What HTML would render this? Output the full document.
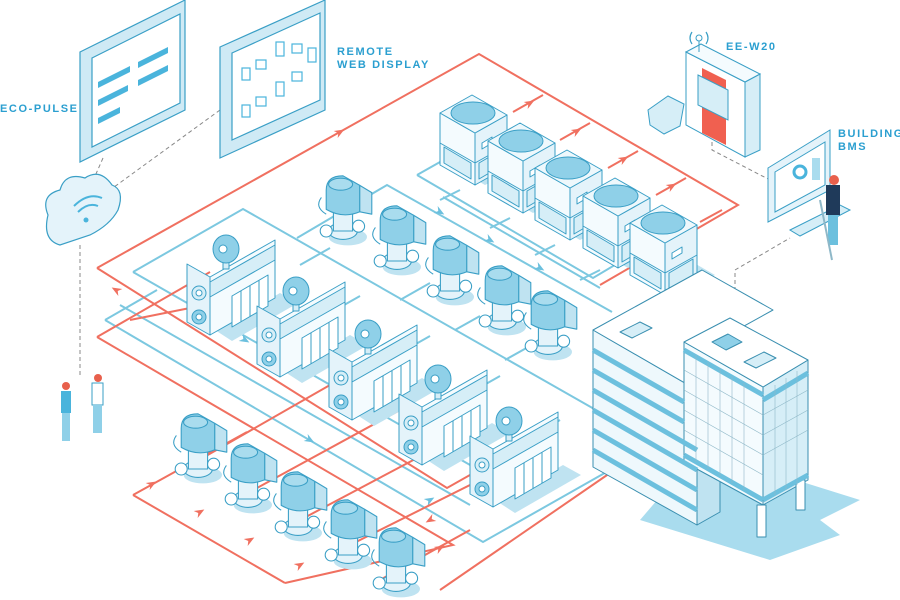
<!DOCTYPE html>
<html><head><meta charset="utf-8"><style>
html,body{margin:0;padding:0;background:#fff;width:900px;height:600px;overflow:hidden}
svg{display:block}
.lb{font-family:"Liberation Sans",sans-serif;font-weight:bold;fill:#2b9fd0;font-size:11px;letter-spacing:1.6px}
</style></head><body>
<svg width="900" height="600" viewBox="0 0 900 600" xmlns="http://www.w3.org/2000/svg">
<defs>
<g id="chiller" stroke="#3a9fc6" stroke-width="1" stroke-linejoin="round">
  <polygon points="5,-5 70,-42 88,-32 22,6" fill="#bfe3f1" stroke="none"/>
  <polygon points="0,0 65,-37 65,-95 0,-58" fill="#f4fbfe"/>
  <polygon points="0,0 -23,-13 -23,-71 0,-58" fill="#e4f3fa"/>
  <polygon points="0,-38 65,-75 65,-90 0,-53" fill="#d6eef7"/>
  <polygon points="22,-8 58,-29 58,-60 22,-39" fill="#fff"/>
  <line x1="31" y1="-13" x2="31" y2="-44"/><line x1="40" y1="-18" x2="40" y2="-49"/><line x1="49" y1="-24" x2="49" y2="-55"/>
  <circle cx="-11" cy="-18" r="7" fill="#8fd0e8"/><circle cx="-11" cy="-42" r="7" fill="#d6eef7"/>
  <circle cx="-11" cy="-18" r="3" fill="#fff"/><circle cx="-11" cy="-42" r="3" fill="#fff"/>
  <rect x="13" y="-80" width="6" height="14" fill="#d6eef7"/>
  <ellipse cx="16" cy="-86" rx="13" ry="14" fill="#8fd0e8"/>
  <circle cx="13" cy="-86" r="4" fill="#fff"/>
</g>
<g id="pump" stroke="#3a9fc6" stroke-width="0.9" stroke-linejoin="round">
  <ellipse cx="4" cy="25" rx="16" ry="7" fill="#bfe3f1" stroke="none"/>
  <ellipse cx="0" cy="20" rx="12" ry="7" fill="#e4f3fa"/>
  <rect x="-8" y="4" width="16" height="16" fill="#e4f3fa"/>
  <circle cx="-14" cy="20" r="5" fill="#fff"/><circle cx="13" cy="16" r="5" fill="#fff"/>
  <path d="M-18,-8 Q-24,0 -14,6" fill="none"/>
  <path d="M-14,-14 Q-14,-26 0,-26 L14,-18 L14,4 Q0,10 -14,2 Z" fill="#8fd0e8"/>
  <polygon points="14,-18 24,-12 24,6 14,4" fill="#bfe3f1"/>
  <ellipse cx="-2" cy="-19" rx="10" ry="5" fill="#a9dcee"/>
</g>
<g id="tower" stroke="#3a9fc6" stroke-width="1" stroke-linejoin="round">
  <polygon points="0,0 35,20 75,0 40,-20" fill="#bfe3f1" stroke="none" transform="translate(10,0)"/>
  <polygon points="0,0 35,20 35,-32 0,-52" fill="#f4fbfe"/>
  <polygon points="35,20 67,2 67,-50 35,-32" fill="#e4f3fa"/>
  <polygon points="0,-52 35,-32 67,-50 32,-70" fill="#eef8fc"/>
  <ellipse cx="33" cy="-52" rx="22" ry="11" fill="#8fd0e8"/>
  <line x1="0" y1="-22" x2="35" y2="-2"/><line x1="35" y1="-2" x2="67" y2="-20"/>
  <polygon points="4,-18 31,-2 31,14 4,-2" fill="#d6eef7"/>
  <polygon points="39,-2 63,-16 63,0 39,14" fill="#d6eef7"/>
  <polygon points="42,-22 52,-28 52,-22 42,-16" fill="#fff"/>
</g>
<g id="arR"><path d="M-5,-4 L5,0 L-5,4 L-2,0Z" fill="#f07060"/></g>
<g id="arB"><path d="M-5,-4 L5,0 L-5,4 L-2,0Z" fill="#6cc0de"/></g>
</defs>

<polygon points="700,450 860,500 820,520 840,535 770,560 640,520" fill="#a9dcee"/>

<g fill="none" stroke="#7cc8e0" stroke-width="2">
  <polyline points="133,272 243,209 610,418"/>
  <polyline points="133,272 505,485"/>
  <polyline points="105,320 157,290"/>
  <polyline points="105,320 483,542 610,470"/>
  <polyline points="120,305 470,505"/>
  <polyline points="297,238 387,185 612,312"/>
  <polyline points="417,175 593,278 640,250"/>
  <polyline points="443,197 600,288"/>
  <polyline points="417,175 440,162"/>
  <line x1="440" y1="165" x2="470" y2="148"/>
  <line x1="300" y1="330" x2="360" y2="296"/><line x1="370" y1="370" x2="430" y2="336"/>
  <line x1="440" y1="410" x2="500" y2="376"/><line x1="510" y1="450" x2="560" y2="420"/>
  <line x1="400" y1="300" x2="430" y2="283"/><line x1="455" y1="330" x2="480" y2="316"/>
  <line x1="505" y1="360" x2="530" y2="346"/><line x1="300" y1="265" x2="330" y2="248"/>
  <line x1="440" y1="200" x2="460" y2="190"/><line x1="490" y1="228" x2="510" y2="218"/>
  <line x1="535" y1="255" x2="555" y2="245"/><line x1="580" y1="280" x2="600" y2="270"/>
</g>
<g>
  <use href="#arB" transform="translate(335,230) rotate(150)"/>
  <use href="#arB" transform="translate(395,265) rotate(150)"/>
  <use href="#arB" transform="translate(450,300) rotate(150)"/>
  <use href="#arB" transform="translate(500,330) rotate(150)"/>
  <use href="#arB" transform="translate(440,212) rotate(30)"/>
  <use href="#arB" transform="translate(490,240) rotate(30)"/>
  <use href="#arB" transform="translate(540,268) rotate(30)"/>
  <use href="#arB" transform="translate(245,340) rotate(30)"/>
  <use href="#arB" transform="translate(310,440) rotate(30)"/>
  <use href="#arB" transform="translate(430,500) rotate(-30)"/>
</g>
<g fill="none" stroke="#f07060" stroke-width="2">
  <polyline points="97,268 479,54 738,205 600,285"/>
  <polyline points="97,268 447,488 500,458"/>
  <polyline points="97,337 453,545 285,583"/>
  <polyline points="133,495 247,432"/>
  <polyline points="133,495 285,583"/>
  <polyline points="440,590 610,473"/>
  <polyline points="97,337 210,272"/>
  <polyline points="130,320 205,305"/>
  <polyline points="185,468 330,385"/>
  <polyline points="235,500 400,410"/>
  <polyline points="285,528 470,430"/>
  <polyline points="330,555 530,455"/>
  <polyline points="380,580 470,530"/>
  <line x1="513" y1="112" x2="543" y2="95"/><line x1="560" y1="140" x2="590" y2="123"/>
  <line x1="608" y1="168" x2="638" y2="151"/><line x1="656" y1="195" x2="686" y2="178"/>
  <line x1="700" y1="222" x2="722" y2="210"/>
</g>
<g>
  <use href="#arR" transform="translate(340,132) rotate(-30)"/>
  <use href="#arR" transform="translate(116,290) rotate(-150)"/>
  <use href="#arR" transform="translate(530,103) rotate(-30)"/>
  <use href="#arR" transform="translate(577,131) rotate(-30)"/>
  <use href="#arR" transform="translate(624,159) rotate(-30)"/>
  <use href="#arR" transform="translate(672,186) rotate(-30)"/>
  <use href="#arR" transform="translate(152,484) rotate(-30)"/>
  <use href="#arR" transform="translate(200,512) rotate(-30)"/>
  <use href="#arR" transform="translate(250,540) rotate(-30)"/>
  <use href="#arR" transform="translate(300,565) rotate(-30)"/>
  <use href="#arR" transform="translate(440,548) rotate(-30)"/>
  <use href="#arR" transform="translate(430,520) rotate(150)"/>
</g>

<g fill="none" stroke="#888" stroke-width="1" stroke-dasharray="4,3">
  <line x1="103" y1="158" x2="92" y2="183"/>
  <line x1="220" y1="110" x2="110" y2="190"/>
  <line x1="80" y1="245" x2="80" y2="375"/>
  <polyline points="712,135 712,150 770,180"/>
  <polyline points="735,305 735,270 790,238"/>
</g>

<use href="#tower" x="440" y="165"/><use href="#tower" x="488" y="193"/>
<use href="#tower" x="535" y="220"/><use href="#tower" x="583" y="248"/><use href="#tower" x="630" y="275"/>

<use href="#pump" transform="translate(343,207) scale(1.2)"/>
<use href="#pump" transform="translate(397,237) scale(1.2)"/>
<use href="#pump" transform="translate(450,267) scale(1.2)"/>
<use href="#pump" transform="translate(502,297) scale(1.2)"/>
<use href="#pump" transform="translate(548,322) scale(1.2)"/>
<use href="#pump" transform="translate(198,445) scale(1.2)"/>
<use href="#pump" transform="translate(248,475) scale(1.2)"/>
<use href="#pump" transform="translate(298,503) scale(1.2)"/>
<use href="#pump" transform="translate(348,531) scale(1.2)"/>
<use href="#pump" transform="translate(396,559) scale(1.2)"/>

<use href="#chiller" x="210" y="335"/><use href="#chiller" x="280" y="377"/><use href="#chiller" x="352" y="420"/>
<use href="#chiller" x="422" y="465"/><use href="#chiller" x="493" y="507"/>

<g stroke="#3a8fb0" stroke-width="1" stroke-linejoin="round">
  <polygon points="593,330 697,390 697,525 593,467" fill="#eef8fc"/>
  <polygon points="593,330 702,270 773,310 697,352 697,390" fill="#fff"/>
  <polygon points="697,390 697,525 720,512 720,378" fill="#bfe3f1"/>
  <polygon points="684,342 763,387 763,505 684,462" fill="#f4fbfe"/>
  <polygon points="763,387 808,360 808,480 763,505" fill="#d6eef7"/>
  <polygon points="684,342 730,318 808,360 763,387" fill="#fff"/>
  <rect x="757" y="505" width="9" height="32" fill="#fff"/>
  <rect x="796" y="480" width="9" height="30" fill="#fff"/>
  <polygon points="620,332 640,322 652,328 632,338" fill="#d6eef7"/>
  <polygon points="744,362 764,352 776,358 756,368" fill="#d6eef7"/>
  <polygon points="712,342 728,334 742,342 726,350" fill="#8fd0e8"/>
</g>
<g stroke="#6cc0de" stroke-width="5" fill="none">
  <line x1="593" y1="350" x2="684" y2="402"/><line x1="593" y1="370" x2="684" y2="422"/>
  <line x1="593" y1="390" x2="697" y2="450"/><line x1="593" y1="410" x2="697" y2="470"/>
  <line x1="593" y1="430" x2="697" y2="490"/><line x1="593" y1="450" x2="697" y2="510"/>
  <line x1="684" y1="455" x2="763" y2="500"/><line x1="763" y1="500" x2="808" y2="475"/>
  <line x1="763" y1="400" x2="808" y2="373"/><line x1="684" y1="350" x2="763" y2="395"/>
</g>
<g stroke="#8fb8c8" stroke-width="0.6">
  <line x1="696" y1="355" x2="696" y2="462"/><line x1="708" y1="362" x2="708" y2="469"/>
  <line x1="720" y1="369" x2="720" y2="476"/><line x1="732" y1="376" x2="732" y2="483"/>
  <line x1="744" y1="383" x2="744" y2="490"/><line x1="775" y1="385" x2="775" y2="495"/>
  <line x1="786" y1="378" x2="786" y2="490"/><line x1="797" y1="371" x2="797" y2="485"/>
  <line x1="684" y1="370" x2="763" y2="415"/><line x1="684" y1="390" x2="763" y2="435"/>
  <line x1="684" y1="410" x2="763" y2="455"/><line x1="684" y1="430" x2="763" y2="475"/>
  <line x1="763" y1="415" x2="808" y2="390"/><line x1="763" y1="435" x2="808" y2="410"/>
  <line x1="763" y1="455" x2="808" y2="430"/>
</g>

<g stroke="#3a9fc6" stroke-width="1.2">
  <polygon points="80,52 185,0 185,110 80,162" fill="#cfeaf5"/>
  <polygon points="92,58 180,14 180,103 92,147" fill="#fff"/>
  <polygon points="220,47 325,0 325,110 220,158" fill="#cfeaf5"/>
  <polygon points="232,53 320,13 320,100 232,140" fill="#fff"/>
</g>
<g fill="#4ab4dc">
  <polygon points="98,82 130,66 130,72 98,88"/><polygon points="138,62 168,47 168,53 138,68"/>
  <polygon points="98,100 128,85 128,91 98,106"/><polygon points="138,80 168,65 168,71 138,86"/>
  <polygon points="98,118 120,107 120,113 98,124"/>
</g>
<g fill="none" stroke="#4ab4dc" stroke-width="1.2">
  <rect x="242" y="68" width="8" height="12"/><rect x="256" y="60" width="10" height="9"/>
  <rect x="276" y="42" width="8" height="14"/><rect x="292" y="44" width="10" height="9"/>
  <rect x="242" y="105" width="8" height="12"/><rect x="256" y="97" width="10" height="9"/>
  <rect x="276" y="82" width="8" height="14"/><rect x="292" y="72" width="10" height="9"/>
  <rect x="308" y="48" width="8" height="14"/>
</g>
<path d="M48,215 Q40,195 60,190 Q65,172 85,178 Q100,168 112,185 Q125,190 118,210 Q110,225 90,235 L60,245 Q42,240 48,215Z" fill="#e4f3fa" stroke="#3a9fc6" stroke-width="1.2"/>
<g fill="none" stroke="#4ab4dc" stroke-width="2"><path d="M78,212 Q88,202 98,206"/><path d="M74,206 Q88,192 102,198"/></g>
<circle cx="86" cy="220" r="2.5" fill="#4ab4dc"/>

<g stroke="#3a9fc6" stroke-width="1">
  <polygon points="686,52 745,82 745,157 686,125" fill="#fff"/>
  <polygon points="745,82 760,74 760,150 745,157" fill="#d6eef7"/>
  <polygon points="686,52 701,44 760,74 745,82" fill="#f4fbfe"/>
  <polygon points="702,68 726,80 726,145 702,133" fill="#f06050" stroke="none"/>
  <polygon points="698,75 728,90 728,120 698,105" fill="#d6eef7"/>
</g>
<path d="M692,32 Q688,38 692,44 M706,32 Q710,38 706,44" stroke="#3a9fc6" fill="none" stroke-width="1.2"/>
<circle cx="699" cy="38" r="3" fill="none" stroke="#3a9fc6"/><line x1="699" y1="41" x2="699" y2="52" stroke="#3a9fc6"/>
<path d="M648,110 L668,96 L684,104 L680,126 L664,134 L650,125 Z" fill="#d6eef7" stroke="#3a9fc6"/>
<g stroke="#3a9fc6" stroke-width="1">
  <polygon points="768,168 830,130 830,190 768,222" fill="#e4f3fa"/>
  <polygon points="775,172 825,142 825,185 775,212" fill="#fff"/>
  <polygon points="790,230 840,205 850,210 800,236" fill="#d6eef7"/>
</g>
<circle cx="800" cy="172" r="6" fill="none" stroke="#4ab4dc" stroke-width="3"/>
<rect x="812" y="158" width="8" height="22" fill="#a9dcee"/>
<rect x="826" y="185" width="14" height="30" fill="#1f3a5a"/><rect x="828" y="215" width="10" height="30" fill="#6cc0de"/>
<circle cx="834" cy="180" r="5" fill="#e8604c"/>
<line x1="820" y1="200" x2="832" y2="260" stroke="#8fb8c8" stroke-width="2"/>
<g>
  <circle cx="66" cy="386" r="4" fill="#e8604c"/><rect x="61" y="391" width="10" height="22" fill="#4ab4dc"/><rect x="62" y="413" width="8" height="28" fill="#8fd0e8"/>
  <circle cx="98" cy="378" r="4" fill="#e8604c"/><rect x="92" y="383" width="11" height="22" fill="#fff" stroke="#3a9fc6"/><rect x="93" y="405" width="9" height="28" fill="#8fd0e8"/>
</g>

<text class="lb" x="0" y="112">ECO-PULSE</text>
<text class="lb" x="337" y="55">REMOTE</text>
<text class="lb" x="337" y="68">WEB DISPLAY</text>
<text class="lb" x="726" y="50">EE-W20</text>
<text class="lb" x="838" y="137">BUILDING</text>
<text class="lb" x="838" y="150">BMS</text>
</svg>
</body></html>
